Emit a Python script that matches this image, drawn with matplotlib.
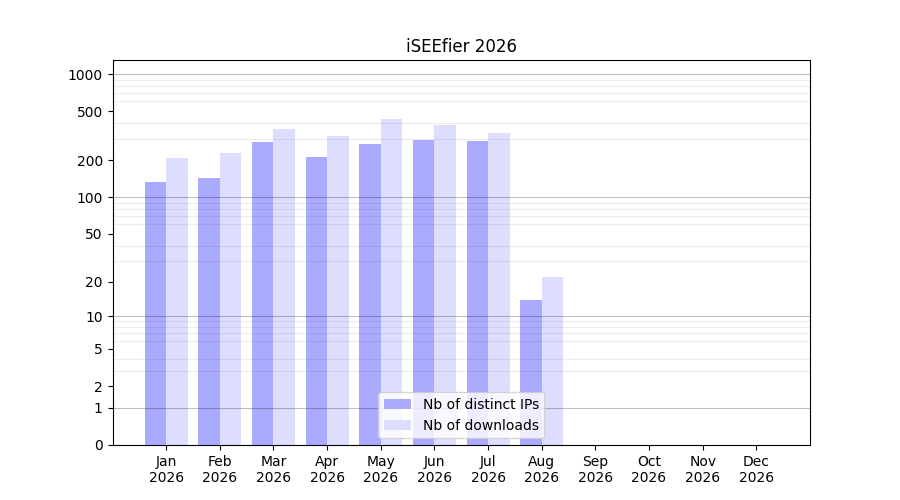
import numpy as np
import matplotlib
matplotlib.use('agg')
import matplotlib.pyplot as plt

months = ['Jan', 'Feb', 'Mar', 'Apr', 'May', 'Jun', 'Jul', 'Aug', 'Sep', 'Oct', 'Nov', 'Dec']
year = 2026
nb_ips = [134, 144, 282, 213, 272, 293, 287, 14, 0, 0, 0, 0]
nb_downloads = [209, 230, 359, 315, 433, 387, 333, 22, 0, 0, 0, 0]
ytick_vals = [0, 1, 2, 5, 10, 20, 50, 100, 200, 500, 1000]


def fwd(y):
    return np.log10(1 + np.asarray(y, dtype=float))


def inv(y):
    return 10 ** np.asarray(y, dtype=float) - 1


fig, ax = plt.subplots(figsize=(9, 5), dpi=100)
x = np.arange(len(months))
ax.bar(x - 0.2, nb_ips, width=0.4, color='#aaaaff', label='Nb of distinct IPs')
ax.bar(x + 0.2, nb_downloads, width=0.4, color='#ddddff', label='Nb of downloads')

ax.set_yscale('function', functions=(fwd, inv))
ax.set_ylim(0, max(nb_downloads) * 3)
ax.set_yticks(ytick_vals)
ax.set_yticklabels([str(v) for v in ytick_vals])
minor = [m * 10 ** k for k in range(0, 3) for m in range(2, 10)]
ax.set_yticks(minor, minor=True)
ax.tick_params(axis='y', which='minor', length=0)
ax.grid(axis='y', which='minor', color='k', alpha=0.07, linewidth=0.8)
for d in [1, 10, 100, 1000]:
    ax.axhline(d, color='k', alpha=0.25, linewidth=0.8, zorder=1.5)

ax.set_xticks(x)
ax.set_xticklabels([f'{m}\n{year}' for m in months])
ax.set_xlim(-1, 12)
ax.set_title(f'iSEEfier {year}')
ax.legend(loc='lower center')

fig.savefig('out.png')
